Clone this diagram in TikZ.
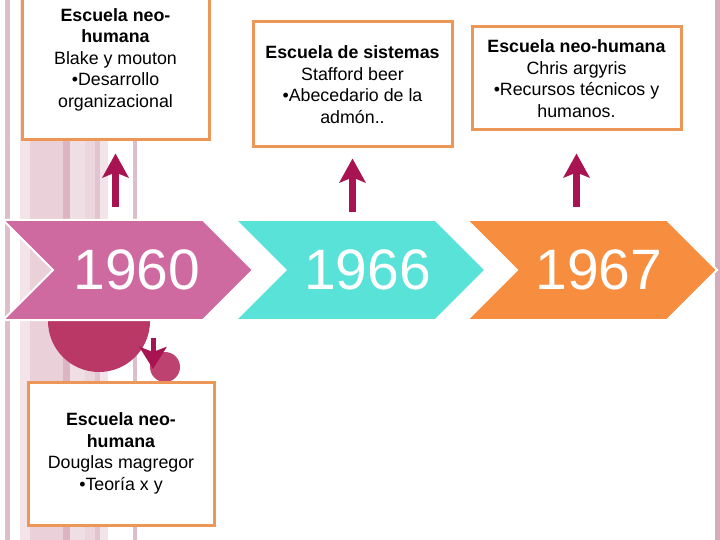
\documentclass[tikz,border=0pt]{standalone}
\usepackage{fontspec}
\setmainfont{Liberation Sans}
\usepackage{tikz}
\usetikzlibrary{arrows.meta}
\usetikzlibrary{positioning}
\usetikzlibrary{shapes.symbols}
\definecolor{boxline}{RGB}{236,150,88}
\definecolor{crimson}{RGB}{168,20,82}
\definecolor{chevpink}{RGB}{207,106,160}
\definecolor{chevcyan}{RGB}{88,226,216}
\definecolor{chevorange}{RGB}{247,141,63}
\definecolor{blobbig}{RGB}{186,56,102}
\definecolor{blobsmall}{RGB}{190,66,112}
\definecolor{stripeA}{RGB}{222,190,202}
\definecolor{stripeB}{RGB}{243,228,233}
\definecolor{stripeC}{RGB}{234,208,217}
\definecolor{stripeD}{RGB}{220,180,195}
\definecolor{stripeE}{RGB}{240,222,229}
\definecolor{stripeF}{RGB}{236,214,222}
\definecolor{stripeG}{RGB}{226,196,208}
\definecolor{stripeH}{RGB}{212,172,188}
\tikzstyle{info} = [rectangle, draw=boxline, line width=3pt, fill=white, align=center, inner sep=0pt, font=\fontsize{17.8}{21.5}\selectfont]
\tikzstyle{chevron} = [signal, signal from=west, signal to=east, draw=white, line width=2pt, minimum width=250pt, minimum height=100pt, inner sep=0pt]
\tikzstyle{year} = [text=white, font=\fontsize{57}{60}\selectfont, inner sep=0pt, node distance=8pt]
\tikzstyle{line} = [draw=crimson, line width=7pt, -{Stealth[length=24pt, width=26pt, inset=5pt]}]

\begin{document}
\begin{tikzpicture}[x=1pt, y=-1pt]
            \useasboundingbox (0,0) rectangle (720,540);
            \clip (0,0) rectangle (720,540);
            % Background stripes
            \fill[white] (0,0) rectangle (720,540);
            \fill[stripeA] (5,0) rectangle (10,540);
            \fill[stripeB] (20,0) rectangle (30,540);
            \fill[stripeC] (30,0) rectangle (63,540);
            \fill[stripeD] (63,0) rectangle (70,540);
            \fill[stripeE] (70,0) rectangle (85,540);
            \fill[stripeF] (85,0) rectangle (95,540);
            \fill[stripeG] (95,0) rectangle (100,540);
            \fill[stripeB] (100,0) rectangle (108,540);
            \fill[stripeA] (133,0) rectangle (137,540);
            \fill[stripeH] (715,0) rectangle (720,540);
            % Circles
            \fill[blobbig] (99,321) circle (51);
            \fill[blobsmall] (165,367) circle (15);
            % Place nodes
            \node [info, minimum width=187pt, minimum height=161pt] (b1) at (115.5,59.5) {\textbf{Escuela neo-}\\\textbf{humana}\\Blake y mouton\\•Desarrollo\\organizacional};
            \node [info, minimum width=199pt, minimum height=125pt] (b2) at (352.5,84.5) {\textbf{Escuela de sistemas}\\Stafford beer\\•Abecedario de la\\admón..};
            \node [info, minimum width=209pt, minimum height=103pt] (b3) at (576.5,78.5) {\textbf{Escuela neo-humana}\\Chris argyris\\•Recursos técnicos y\\humanos.};
            \node [info, minimum width=186pt, minimum height=143pt] (b4) at (121,453.5) {\textbf{Escuela neo-}\\\textbf{humana}\\Douglas magregor\\•Teoría x y};
            \node [chevron, fill=chevpink] (c1) at (128,270) {};
            \node [chevron, fill=chevcyan] (c2) at (360.5,270) {};
            \node [chevron, fill=chevorange] (c3) at (592,270) {};
            \node [year, right of=c1, node distance=9pt] (y1) {1960};
            \node [year, right of=c2, node distance=7pt] (y2) {1966};
            \node [year, right of=c3, node distance=7pt] (y3) {1967};
            \coordinate (d1) at (153,369);
            % Draw edges
            \path [line, shorten <=12pt, shorten >=12pt] (c1.north -| b1.south) -- (b1.south);
            \path [line, shorten <=7pt, shorten >=10pt] (c2.north -| b2.south) -- (b2.south);
            \path [line, shorten <=12pt, shorten >=22pt] (c3.north -| b3.south) -- (b3.south);
            \path [line, line width=5pt, -{Stealth[length=22pt, width=27pt, inset=5pt]}, shorten <=17pt] (c1.south -| d1) -- (d1);
          \end{tikzpicture}
\end{document}
